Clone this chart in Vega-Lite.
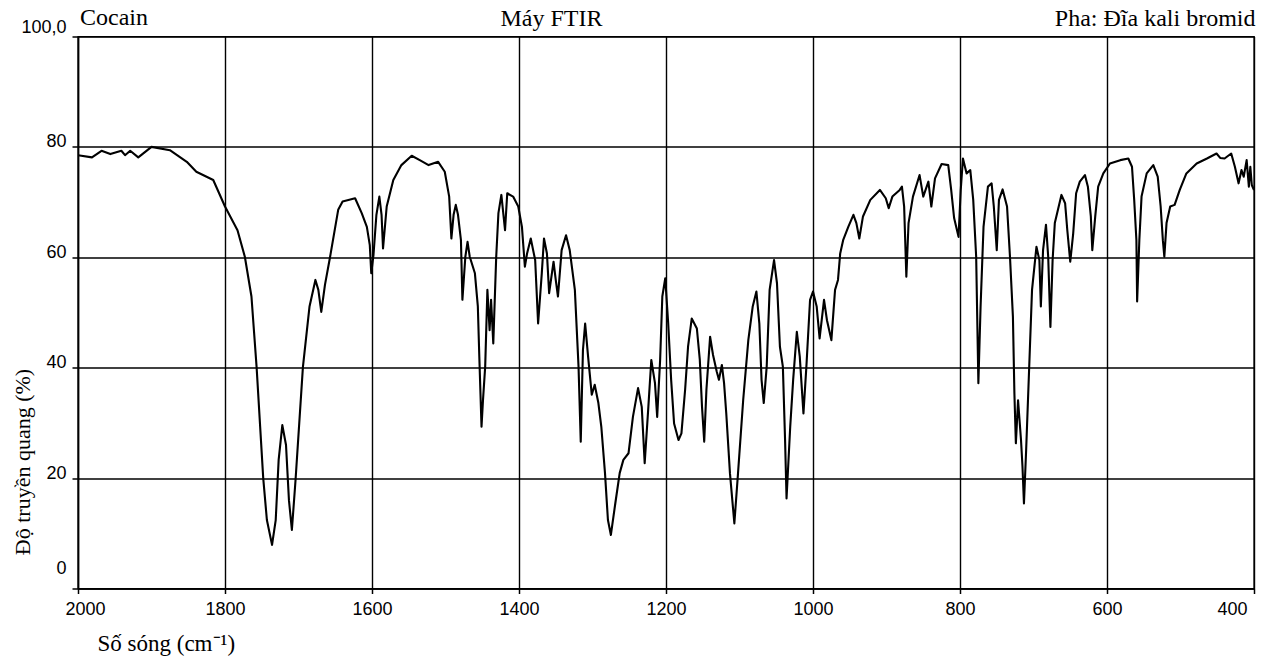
{
  "$schema": "https://vega.github.io/schema/vega-lite/v6.json",
  "autosize": "none",
  "width": 1176,
  "height": 552,
  "padding": {"left": 78, "top": 36.5, "right": 21, "bottom": 74.5},
  "background": "white",
  "title": {"text": "Cocain", "anchor": "start", "frame": "group", "font": "Liberation Serif", "fontSize": 24, "fontWeight": "normal", "color": "black", "offset": 0, "dx": 2, "dy": 24},
  "data": {"values": [
    {"wavenumber": 2000, "transmittance": 78.5}, {"wavenumber": 1981, "transmittance": 78.1}, {"wavenumber": 1968, "transmittance": 79.3}, {"wavenumber": 1956, "transmittance": 78.7}, {"wavenumber": 1941, "transmittance": 79.3}, {"wavenumber": 1936, "transmittance": 78.5}, {"wavenumber": 1929, "transmittance": 79.3}, {"wavenumber": 1918, "transmittance": 78.1}, {"wavenumber": 1900, "transmittance": 80.0}, {"wavenumber": 1875, "transmittance": 79.4}, {"wavenumber": 1852, "transmittance": 77.3}, {"wavenumber": 1839, "transmittance": 75.5}, {"wavenumber": 1816, "transmittance": 74.0}, {"wavenumber": 1800, "transmittance": 69.2}, {"wavenumber": 1783, "transmittance": 64.9}, {"wavenumber": 1773, "transmittance": 60.1}, {"wavenumber": 1764, "transmittance": 52.9}, {"wavenumber": 1757, "transmittance": 40.1}, {"wavenumber": 1748, "transmittance": 20.0}, {"wavenumber": 1743, "transmittance": 12.4}, {"wavenumber": 1736, "transmittance": 7.9}, {"wavenumber": 1731, "transmittance": 12.4}, {"wavenumber": 1727, "transmittance": 23.3}, {"wavenumber": 1722, "transmittance": 29.6}, {"wavenumber": 1717, "transmittance": 26.0}, {"wavenumber": 1713, "transmittance": 16.0}, {"wavenumber": 1709, "transmittance": 10.6}, {"wavenumber": 1704, "transmittance": 19.7}, {"wavenumber": 1694, "transmittance": 40.1}, {"wavenumber": 1685, "transmittance": 51.1}, {"wavenumber": 1677, "transmittance": 55.9}, {"wavenumber": 1673, "transmittance": 54.1}, {"wavenumber": 1669, "transmittance": 50.1}, {"wavenumber": 1664, "transmittance": 55.0}, {"wavenumber": 1657, "transmittance": 60.1}, {"wavenumber": 1646, "transmittance": 68.6}, {"wavenumber": 1640, "transmittance": 70.1}, {"wavenumber": 1623, "transmittance": 70.7}, {"wavenumber": 1614, "transmittance": 68.0}, {"wavenumber": 1607, "transmittance": 65.5}, {"wavenumber": 1603, "transmittance": 62.2}, {"wavenumber": 1601, "transmittance": 57.1}, {"wavenumber": 1598, "transmittance": 60.4}, {"wavenumber": 1594, "transmittance": 67.7}, {"wavenumber": 1590, "transmittance": 71.0}, {"wavenumber": 1587, "transmittance": 67.7}, {"wavenumber": 1585, "transmittance": 61.6}, {"wavenumber": 1580, "transmittance": 69.2}, {"wavenumber": 1571, "transmittance": 74.0}, {"wavenumber": 1560, "transmittance": 76.7}, {"wavenumber": 1546, "transmittance": 78.4}, {"wavenumber": 1535, "transmittance": 77.6}, {"wavenumber": 1523, "transmittance": 76.7}, {"wavenumber": 1510, "transmittance": 77.3}, {"wavenumber": 1501, "transmittance": 75.5}, {"wavenumber": 1495, "transmittance": 71.0}, {"wavenumber": 1492, "transmittance": 63.4}, {"wavenumber": 1489, "transmittance": 67.7}, {"wavenumber": 1486, "transmittance": 69.5}, {"wavenumber": 1483, "transmittance": 67.7}, {"wavenumber": 1479, "transmittance": 63.1}, {"wavenumber": 1477, "transmittance": 52.3}, {"wavenumber": 1473, "transmittance": 60.1}, {"wavenumber": 1470, "transmittance": 62.8}, {"wavenumber": 1467, "transmittance": 60.1}, {"wavenumber": 1460, "transmittance": 57.1}, {"wavenumber": 1456, "transmittance": 51.1}, {"wavenumber": 1454, "transmittance": 42.0}, {"wavenumber": 1451, "transmittance": 29.3}, {"wavenumber": 1449, "transmittance": 34.1}, {"wavenumber": 1446, "transmittance": 40.2}, {"wavenumber": 1443, "transmittance": 54.1}, {"wavenumber": 1440, "transmittance": 46.8}, {"wavenumber": 1438, "transmittance": 52.3}, {"wavenumber": 1435, "transmittance": 44.4}, {"wavenumber": 1431, "transmittance": 60.1}, {"wavenumber": 1428, "transmittance": 68.0}, {"wavenumber": 1424, "transmittance": 71.3}, {"wavenumber": 1419, "transmittance": 64.9}, {"wavenumber": 1416, "transmittance": 71.6}, {"wavenumber": 1408, "transmittance": 71.0}, {"wavenumber": 1401, "transmittance": 69.2}, {"wavenumber": 1396, "transmittance": 65.5}, {"wavenumber": 1392, "transmittance": 58.3}, {"wavenumber": 1389, "transmittance": 60.7}, {"wavenumber": 1384, "transmittance": 63.4}, {"wavenumber": 1378, "transmittance": 59.5}, {"wavenumber": 1374, "transmittance": 48.0}, {"wavenumber": 1369, "transmittance": 57.1}, {"wavenumber": 1366, "transmittance": 63.4}, {"wavenumber": 1362, "transmittance": 60.7}, {"wavenumber": 1359, "transmittance": 53.5}, {"wavenumber": 1353, "transmittance": 59.2}, {"wavenumber": 1350, "transmittance": 55.9}, {"wavenumber": 1347, "transmittance": 52.9}, {"wavenumber": 1342, "transmittance": 61.3}, {"wavenumber": 1336, "transmittance": 64.0}, {"wavenumber": 1331, "transmittance": 61.3}, {"wavenumber": 1324, "transmittance": 54.1}, {"wavenumber": 1319, "transmittance": 40.2}, {"wavenumber": 1316, "transmittance": 26.6}, {"wavenumber": 1313, "transmittance": 43.2}, {"wavenumber": 1310, "transmittance": 48.0}, {"wavenumber": 1306, "transmittance": 42.0}, {"wavenumber": 1301, "transmittance": 35.1}, {"wavenumber": 1297, "transmittance": 36.9}, {"wavenumber": 1292, "transmittance": 33.6}, {"wavenumber": 1288, "transmittance": 29.3}, {"wavenumber": 1283, "transmittance": 20.9}, {"wavenumber": 1279, "transmittance": 12.4}, {"wavenumber": 1275, "transmittance": 9.7}, {"wavenumber": 1269, "transmittance": 15.4}, {"wavenumber": 1263, "transmittance": 20.9}, {"wavenumber": 1258, "transmittance": 23.3}, {"wavenumber": 1251, "transmittance": 24.5}, {"wavenumber": 1245, "transmittance": 31.1}, {"wavenumber": 1238, "transmittance": 36.3}, {"wavenumber": 1233, "transmittance": 32.9}, {"wavenumber": 1229, "transmittance": 22.7}, {"wavenumber": 1224, "transmittance": 32.9}, {"wavenumber": 1220, "transmittance": 41.4}, {"wavenumber": 1215, "transmittance": 37.2}, {"wavenumber": 1212, "transmittance": 31.1}, {"wavenumber": 1208, "transmittance": 41.4}, {"wavenumber": 1205, "transmittance": 52.9}, {"wavenumber": 1201, "transmittance": 56.2}, {"wavenumber": 1197, "transmittance": 48.0}, {"wavenumber": 1193, "transmittance": 37.8}, {"wavenumber": 1189, "transmittance": 29.9}, {"wavenumber": 1183, "transmittance": 26.9}, {"wavenumber": 1179, "transmittance": 28.1}, {"wavenumber": 1174, "transmittance": 36.0}, {"wavenumber": 1170, "transmittance": 43.8}, {"wavenumber": 1165, "transmittance": 48.9}, {"wavenumber": 1158, "transmittance": 47.1}, {"wavenumber": 1154, "transmittance": 41.4}, {"wavenumber": 1151, "transmittance": 32.9}, {"wavenumber": 1148, "transmittance": 26.6}, {"wavenumber": 1145, "transmittance": 36.0}, {"wavenumber": 1140, "transmittance": 45.6}, {"wavenumber": 1136, "transmittance": 42.3}, {"wavenumber": 1131, "transmittance": 39.3}, {"wavenumber": 1128, "transmittance": 37.8}, {"wavenumber": 1124, "transmittance": 40.5}, {"wavenumber": 1121, "transmittance": 37.2}, {"wavenumber": 1118, "transmittance": 31.7}, {"wavenumber": 1113, "transmittance": 20.9}, {"wavenumber": 1107, "transmittance": 11.8}, {"wavenumber": 1102, "transmittance": 20.9}, {"wavenumber": 1095, "transmittance": 34.1}, {"wavenumber": 1088, "transmittance": 45.0}, {"wavenumber": 1082, "transmittance": 51.1}, {"wavenumber": 1077, "transmittance": 53.8}, {"wavenumber": 1073, "transmittance": 48.0}, {"wavenumber": 1070, "transmittance": 37.8}, {"wavenumber": 1067, "transmittance": 33.6}, {"wavenumber": 1063, "transmittance": 40.2}, {"wavenumber": 1059, "transmittance": 54.1}, {"wavenumber": 1053, "transmittance": 59.5}, {"wavenumber": 1049, "transmittance": 55.3}, {"wavenumber": 1045, "transmittance": 43.8}, {"wavenumber": 1041, "transmittance": 40.2}, {"wavenumber": 1038, "transmittance": 26.9}, {"wavenumber": 1036, "transmittance": 16.3}, {"wavenumber": 1031, "transmittance": 29.3}, {"wavenumber": 1027, "transmittance": 37.8}, {"wavenumber": 1022, "transmittance": 46.5}, {"wavenumber": 1018, "transmittance": 42.0}, {"wavenumber": 1013, "transmittance": 31.7}, {"wavenumber": 1009, "transmittance": 40.2}, {"wavenumber": 1004, "transmittance": 52.3}, {"wavenumber": 1000, "transmittance": 53.8}, {"wavenumber": 995, "transmittance": 51.1}, {"wavenumber": 991, "transmittance": 45.3}, {"wavenumber": 985, "transmittance": 52.3}, {"wavenumber": 981, "transmittance": 48.6}, {"wavenumber": 975, "transmittance": 45.0}, {"wavenumber": 970, "transmittance": 54.1}, {"wavenumber": 966, "transmittance": 55.9}, {"wavenumber": 963, "transmittance": 60.7}, {"wavenumber": 959, "transmittance": 63.1}, {"wavenumber": 952, "transmittance": 65.5}, {"wavenumber": 945, "transmittance": 67.7}, {"wavenumber": 941, "transmittance": 66.2}, {"wavenumber": 937, "transmittance": 63.4}, {"wavenumber": 932, "transmittance": 67.4}, {"wavenumber": 922, "transmittance": 70.4}, {"wavenumber": 909, "transmittance": 72.2}, {"wavenumber": 901, "transmittance": 70.7}, {"wavenumber": 897, "transmittance": 68.9}, {"wavenumber": 892, "transmittance": 71.0}, {"wavenumber": 882, "transmittance": 72.2}, {"wavenumber": 879, "transmittance": 72.8}, {"wavenumber": 876, "transmittance": 69.2}, {"wavenumber": 873, "transmittance": 56.5}, {"wavenumber": 870, "transmittance": 66.2}, {"wavenumber": 864, "transmittance": 71.0}, {"wavenumber": 855, "transmittance": 74.9}, {"wavenumber": 850, "transmittance": 71.0}, {"wavenumber": 843, "transmittance": 73.7}, {"wavenumber": 839, "transmittance": 69.2}, {"wavenumber": 834, "transmittance": 74.3}, {"wavenumber": 825, "transmittance": 76.9}, {"wavenumber": 816, "transmittance": 76.7}, {"wavenumber": 812, "transmittance": 72.2}, {"wavenumber": 808, "transmittance": 67.1}, {"wavenumber": 802, "transmittance": 63.7}, {"wavenumber": 799, "transmittance": 72.2}, {"wavenumber": 796, "transmittance": 77.9}, {"wavenumber": 791, "transmittance": 75.2}, {"wavenumber": 786, "transmittance": 75.8}, {"wavenumber": 782, "transmittance": 70.4}, {"wavenumber": 778, "transmittance": 60.1}, {"wavenumber": 775, "transmittance": 37.2}, {"wavenumber": 772, "transmittance": 51.1}, {"wavenumber": 768, "transmittance": 65.5}, {"wavenumber": 762, "transmittance": 72.8}, {"wavenumber": 757, "transmittance": 73.4}, {"wavenumber": 754, "transmittance": 69.2}, {"wavenumber": 750, "transmittance": 61.3}, {"wavenumber": 747, "transmittance": 70.4}, {"wavenumber": 742, "transmittance": 72.3}, {"wavenumber": 736, "transmittance": 69.2}, {"wavenumber": 732, "transmittance": 60.1}, {"wavenumber": 728, "transmittance": 49.2}, {"wavenumber": 726, "transmittance": 35.4}, {"wavenumber": 724, "transmittance": 26.3}, {"wavenumber": 721, "transmittance": 34.1}, {"wavenumber": 717, "transmittance": 26.9}, {"wavenumber": 715, "transmittance": 22.1}, {"wavenumber": 713, "transmittance": 15.4}, {"wavenumber": 710, "transmittance": 25.1}, {"wavenumber": 705, "transmittance": 43.2}, {"wavenumber": 702, "transmittance": 54.1}, {"wavenumber": 696, "transmittance": 61.9}, {"wavenumber": 692, "transmittance": 59.5}, {"wavenumber": 690, "transmittance": 51.1}, {"wavenumber": 687, "transmittance": 61.3}, {"wavenumber": 683, "transmittance": 65.9}, {"wavenumber": 680, "transmittance": 60.1}, {"wavenumber": 677, "transmittance": 47.4}, {"wavenumber": 674, "transmittance": 59.5}, {"wavenumber": 671, "transmittance": 66.2}, {"wavenumber": 662, "transmittance": 71.3}, {"wavenumber": 657, "transmittance": 69.8}, {"wavenumber": 654, "transmittance": 64.9}, {"wavenumber": 650, "transmittance": 59.2}, {"wavenumber": 646, "transmittance": 64.3}, {"wavenumber": 642, "transmittance": 71.6}, {"wavenumber": 637, "transmittance": 73.7}, {"wavenumber": 630, "transmittance": 74.9}, {"wavenumber": 626, "transmittance": 72.8}, {"wavenumber": 622, "transmittance": 67.4}, {"wavenumber": 620, "transmittance": 61.3}, {"wavenumber": 616, "transmittance": 67.4}, {"wavenumber": 612, "transmittance": 72.8}, {"wavenumber": 605, "transmittance": 75.2}, {"wavenumber": 596, "transmittance": 77.0}, {"wavenumber": 582, "transmittance": 77.6}, {"wavenumber": 571, "transmittance": 77.9}, {"wavenumber": 566, "transmittance": 76.4}, {"wavenumber": 563, "transmittance": 70.4}, {"wavenumber": 560, "transmittance": 63.1}, {"wavenumber": 559, "transmittance": 52.0}, {"wavenumber": 556, "transmittance": 63.1}, {"wavenumber": 553, "transmittance": 71.0}, {"wavenumber": 546, "transmittance": 75.2}, {"wavenumber": 537, "transmittance": 76.7}, {"wavenumber": 531, "transmittance": 74.6}, {"wavenumber": 527, "transmittance": 69.2}, {"wavenumber": 524, "transmittance": 63.1}, {"wavenumber": 522, "transmittance": 60.1}, {"wavenumber": 519, "transmittance": 66.2}, {"wavenumber": 514, "transmittance": 69.2}, {"wavenumber": 508, "transmittance": 69.5}, {"wavenumber": 501, "transmittance": 72.2}, {"wavenumber": 492, "transmittance": 75.2}, {"wavenumber": 478, "transmittance": 77.0}, {"wavenumber": 464, "transmittance": 77.9}, {"wavenumber": 451, "transmittance": 78.8}, {"wavenumber": 446, "transmittance": 78.0}, {"wavenumber": 440, "transmittance": 77.9}, {"wavenumber": 431, "transmittance": 78.8}, {"wavenumber": 426, "transmittance": 76.4}, {"wavenumber": 421, "transmittance": 73.4}, {"wavenumber": 417, "transmittance": 75.8}, {"wavenumber": 414, "transmittance": 74.6}, {"wavenumber": 410, "transmittance": 77.6}, {"wavenumber": 407, "transmittance": 72.8}, {"wavenumber": 405, "transmittance": 76.4}, {"wavenumber": 403, "transmittance": 73.1}, {"wavenumber": 400, "transmittance": 72.2}
  ]},
  "resolve": {"axis": {"x": "independent", "y": "independent"}},
  "layer": [
    {
      "mark": {"type": "line", "color": "black", "strokeWidth": 2.1, "strokeJoin": "round", "clip": true},
      "encoding": {
        "x": {"field": "wavenumber", "type": "quantitative",
          "scale": {"domain": [2000, 400], "nice": false, "zero": false},
          "axis": {"orient": "bottom", "values": [2000, 1800, 1600, 1400, 1200, 1000, 800, 600, 400], "format": "d",
            "labelFont": "Liberation Sans", "labelFontSize": 18, "labelColor": "black", "labelPadding": 7,
            "labelOffset": {"condition": [{"test": "datum.value == 2000", "value": -13}, {"test": "datum.value == 400", "value": -7}], "value": 0},
            "tickColor": "black", "tickSize": 5, "tickWidth": 1.5,
            "domainColor": "black", "domainWidth": 1.5,
            "grid": true, "gridColor": "black", "gridWidth": 1.4, "gridOpacity": 1,
            "title": "Số sóng (cm⁻¹)", "titleFont": "Liberation Serif", "titleFontSize": 23, "titleFontWeight": "normal", "titleColor": "black",
            "titleAlign": "left", "titleBaseline": "alphabetic", "titleX": 19, "titleY": 62}},
        "y": {"field": "transmittance", "type": "quantitative",
          "scale": {"domain": [0, 100], "nice": false, "zero": false},
          "axis": {"orient": "left", "values": [0, 20, 40, 60, 80, 100],
            "labelExpr": "datum.value == 100 ? '100,0' : datum.label",
            "labelFont": "Liberation Sans", "labelFontSize": 18, "labelColor": "black", "labelPadding": 6,
            "labelBaseline": "alphabetic",
            "labelOffset": {"condition": [{"test": "datum.value == 0", "value": -15}, {"test": "datum.value == 100", "value": -4}], "value": 0},
            "tickColor": "black", "tickSize": 6, "tickWidth": 1.5,
            "domainColor": "black", "domainWidth": 1.5,
            "grid": true, "gridColor": "black", "gridWidth": 1.4, "gridOpacity": 1,
            "title": "Độ truyền quang (%)", "titleFont": "Liberation Serif", "titleFontSize": 22, "titleFontWeight": "normal", "titleColor": "black",
            "titleAngle": 270, "titleAlign": "center", "titleBaseline": "middle", "titleX": -56, "titleY": 425}}
      }
    },
    {
      "mark": {"type": "line", "opacity": 0},
      "encoding": {
        "x": {"field": "wavenumber", "type": "quantitative",
          "axis": {"orient": "top", "labels": false, "ticks": false, "domain": false, "grid": false,
            "title": "Máy FTIR", "titleFont": "Liberation Serif", "titleFontSize": 24, "titleFontWeight": "normal", "titleColor": "black",
            "titleAlign": "center", "titleBaseline": "alphabetic", "titleX": 473, "titleY": -11.5}},
        "y": {"field": "transmittance", "type": "quantitative",
          "axis": {"orient": "right", "labels": false, "ticks": false, "domain": false, "grid": false,
            "title": "Pha: Đĩa kali bromid", "titleFont": "Liberation Serif", "titleFontSize": 24, "titleFontWeight": "normal", "titleColor": "black",
            "titleAngle": 0, "titleAlign": "right", "titleBaseline": "alphabetic", "titleX": 1, "titleY": -11.5}}
      }
    }
  ],
  "config": {"view": {"stroke": "black", "strokeWidth": 1.4}}
}
